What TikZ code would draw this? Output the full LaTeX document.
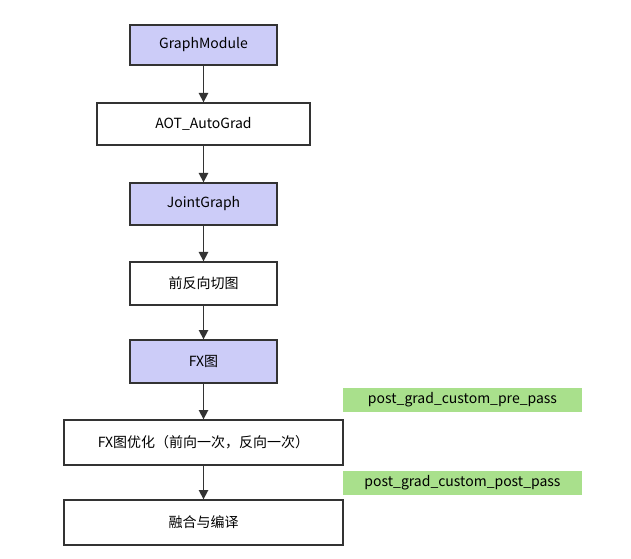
\documentclass[tikz,border=0pt]{standalone}
\usepackage{fontspec}
\setmainfont{Noto Sans CJK SC}
\usetikzlibrary{arrows.meta}
\definecolor{lav}{HTML}{CCCCF8}
\definecolor{grn}{HTML}{A9E08C}
\definecolor{ln}{HTML}{333333}
\begin{document}
\begin{tikzpicture}[x=0.75pt,y=-0.75pt,
  box/.style={draw=ln,line width=1pt,inner sep=0pt,font=\fontsize{10.5pt}{12pt}\selectfont},
  tag/.style={fill=grn,inner sep=0pt,font=\fontsize{10.5pt}{12pt}\selectfont},
  arr/.style={draw=ln,line width=1.2pt,-{Triangle[length=7pt,width=7pt]}}]
\useasboundingbox (0,0) rectangle (631,559);
\newcommand\bx[6]{\node[box,#6,minimum width=#3*0.75pt,minimum height=#4*0.75pt] (#1) at (#2) {#5};}
\bx{a}{203.5,45}{147}{40}{GraphModule}{fill=lav}
\bx{b}{203.5,124}{213}{42}{AOT\_AutoGrad}{fill=white}
\bx{c}{203.5,204}{147}{42}{JointGraph}{fill=lav}
\bx{d}{203.5,283.5}{147}{43}{前反向切图}{fill=white}
\bx{e}{203.5,361.5}{147}{43}{FX图}{fill=lav}
\bx{f}{203.5,442.5}{279}{45}{FX图优化（前向一次，反向一次）}{fill=white}
\bx{g}{203.5,522.5}{279}{45}{融合与编译}{fill=white}
\node[tag,minimum width=239*0.75pt,minimum height=24*0.75pt] (p1) at (462.5,400) {post\_grad\_custom\_pre\_pass};
\node[tag,minimum width=239*0.75pt,minimum height=24*0.75pt] (p2) at (462.5,483) {post\_grad\_custom\_post\_pass};
\foreach \u/\v in {a/b,b/c,c/d,d/e,e/f,f/g} \draw[arr] (\u) -- (\v);
\end{tikzpicture}
\end{document}
